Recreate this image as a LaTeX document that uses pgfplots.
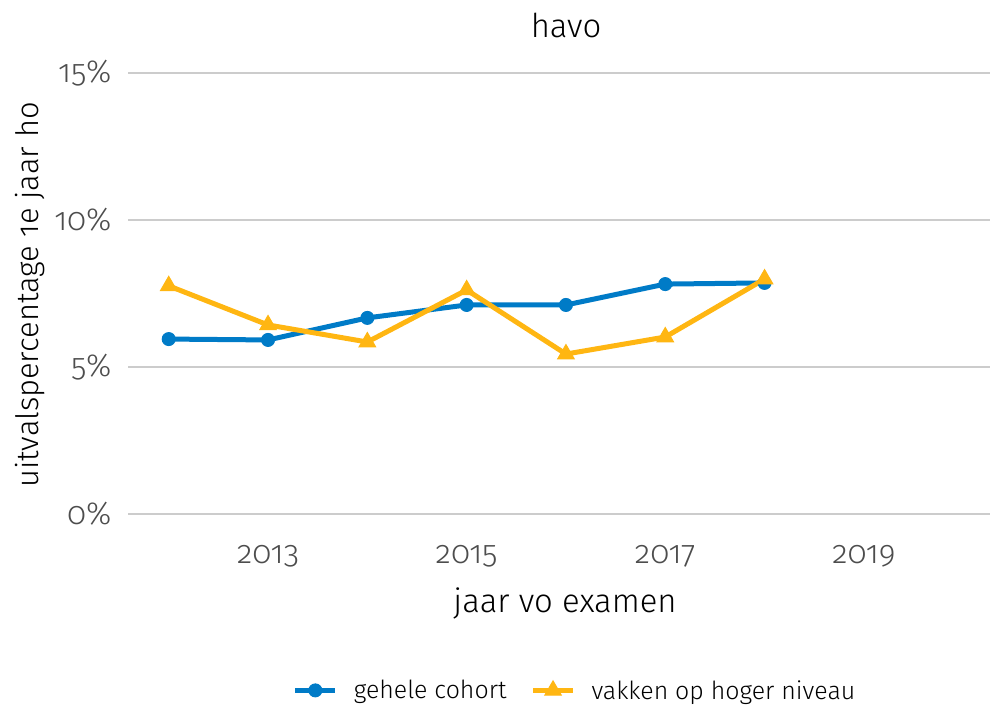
\documentclass[border=0pt]{standalone}
\usepackage{fontspec}
\setmainfont{Fira Sans}[UprightFont=* Light, Numbers=OldStyle]
\usepackage{pgfplots}
\pgfplotsset{compat=1.18}
\definecolor{rblue}{HTML}{007BC7}
\definecolor{ryellow}{HTML}{FFB612}
\definecolor{tickgrey}{HTML}{4D4D4D}
\definecolor{gridgrey}{HTML}{CCCCCC}
\begin{document}
\begin{tikzpicture}
\useasboundingbox (0,0) rectangle (994bp,709bp);
\begin{axis}[
  at={(128bp,195bp)}, anchor=south west,
  scale only axis, width=862bp, height=441bp,
  xmin=2011.59, xmax=2020.27, ymin=0, ymax=15,
  axis x line*=bottom, axis y line*=left,
  axis line style={draw=none},
  ymajorgrids, grid style={gridgrey, line width=1.8bp},
  xtick={2013,2015,2017,2019}, ytick={0,5,10,15},
  /pgf/number format/assume math mode=true,
  /pgf/number format/1000 sep={},
  yticklabel={\pgfmathprintnumber{\tick}\%},
  tick label style={font=\fontsize{32}{35}\selectfont, text=tickgrey},
  yticklabel style={xshift=-13bp},
  xticklabel style={yshift=-28bp},
  major tick length=0pt,
  legend columns=2,
  legend style={draw=none, at={(0.5186,-0.40)}, anchor=center,
    font=\fontsize{25}{28}\selectfont,
    /tikz/every odd column/.append style={column sep=14bp},
    /tikz/every even column/.append style={column sep=22bp}},
  legend image code/.code={\draw[#1, mark repeat=2, mark phase=2] plot coordinates {(0bp,0bp) (20bp,0bp) (40bp,0bp)};},
]
\addplot[rblue, line width=5bp, mark=*, mark size=6.5bp, mark options={solid, line width=1bp}] coordinates {
(2012,5.95) (2013,5.92) (2014,6.67) (2015,7.11) (2016,7.11) (2017,7.82) (2018,7.86)};
\addlegendentry{gehele cohort}
\addplot[ryellow, line width=5bp, mark=triangle*, mark size=9.5bp, mark options={solid, line width=1bp}] coordinates {
(2012,7.76) (2013,6.43) (2014,5.85) (2015,7.62) (2016,5.44) (2017,6.02) (2018,7.99)};
\addlegendentry{vakken op hoger niveau}
\end{axis}
\node[font=\fontsize{33}{36}\selectfont] at (566bp,684bp) {havo};
\node[font=\fontsize{33}{36}\selectfont] at (565bp,106bp) {jaar vo examen};
\node[font=\fontsize{31}{34}\selectfont, rotate=90] at (30bp,414bp) {uitvalspercentage 1e jaar ho};
\end{tikzpicture}
\end{document}
